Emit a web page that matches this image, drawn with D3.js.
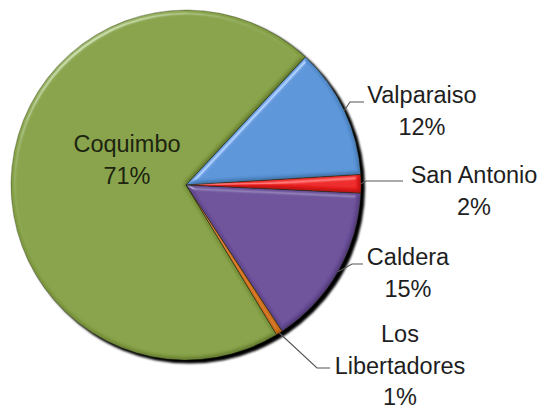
<!DOCTYPE html>
<html><head><meta charset="utf-8">
<script src="https://cdn.jsdelivr.net/npm/d3@7"></script>
<style>html,body{margin:0;padding:0;background:#fff;}svg{display:block;}</style>
</head><body>
<svg id="chart" width="542" height="411"></svg>
<script>
// ---- data ----
const categories = ["Valparaiso", "San Antonio", "Caldera", "Los Libertadores", "Coquimbo"];
const values = [12.1, 1.7, 15.0, 0.6, 70.6];
const colors = ["#5a96da", "#ee1d1d", "#6b4f9b", "#d9771f", "#87a345"];
// label layout (block centre x, first baseline y, line breaks)
const labelLines = [["Valparaiso"], ["San Antonio"], ["Caldera"], ["Los", "Libertadores"], ["Coquimbo"]];
const labelX = [422, 474, 408, 400, 127];
const labelY = [103, 183, 265, 342, 152];
// leader elbows/ends (null = no leader)
const leaderPts = [
  [[350, 102], [364, 102]],
  [[366, 181], [403, 181]],
  [[352, 264], [363, 264]],
  [[317, 368], [330, 368]],
  null
];

const W = 542, H = 411;
const cx = 186, cy = 185, R = 175;
const lineH = 31.5;

const svg = d3.select("#chart");
const defs = svg.append("defs");

const shadow = defs.append("filter").attr("id", "shadow")
  .attr("x", "-10%").attr("y", "-10%").attr("width", "120%").attr("height", "120%");
shadow.append("feGaussianBlur").attr("stdDeviation", 0.9);

const bevel = defs.append("filter").attr("id", "bevel")
  .attr("x", "-5%").attr("y", "-5%").attr("width", "110%").attr("height", "110%");
bevel.append("feGaussianBlur").attr("in", "SourceAlpha").attr("stdDeviation", 2.2).attr("result", "blur");
const spec = bevel.append("feSpecularLighting").attr("in", "blur").attr("surfaceScale", 4)
  .attr("specularConstant", 0.75).attr("specularExponent", 22)
  .attr("lighting-color", "#ffffff").attr("result", "spec");
spec.append("feDistantLight").attr("azimuth", 235).attr("elevation", 30);
bevel.append("feComposite").attr("in", "spec").attr("in2", "SourceAlpha").attr("operator", "in").attr("result", "specIn");
const diff = bevel.append("feDiffuseLighting").attr("in", "blur").attr("surfaceScale", 4)
  .attr("diffuseConstant", 1).attr("lighting-color", "#ffffff").attr("result", "diff");
diff.append("feDistantLight").attr("azimuth", 235).attr("elevation", 60);
bevel.append("feComposite").attr("in", "diff").attr("in2", "SourceAlpha").attr("operator", "in").attr("result", "diffIn");
bevel.append("feComposite").attr("in", "SourceGraphic").attr("in2", "diffIn")
  .attr("operator", "arithmetic").attr("k1", 0.55).attr("k2", 0.5).attr("k3", 0).attr("k4", 0).attr("result", "shaded");
bevel.append("feComposite").attr("in", "shaded").attr("in2", "specIn")
  .attr("operator", "arithmetic").attr("k1", 0).attr("k2", 1).attr("k3", 0.5).attr("k4", 0);

const pie = d3.pie().sort(null).value(d => d).startAngle(43 * Math.PI / 180).endAngle(43 * Math.PI / 180 + 2 * Math.PI);
const arcs = pie(values);
const arc = d3.arc().innerRadius(0).outerRadius(R);
const total = d3.sum(values);

const g = svg.append("g").attr("transform", `translate(${cx},${cy})`);

// shadow rim
g.append("circle").attr("cx", 3.5).attr("cy", 3).attr("r", R + 0.5)
  .attr("fill", "#000").attr("filter", "url(#shadow)");

g.selectAll("path.slice").data(arcs).enter().append("path")
  .attr("class", "slice")
  .attr("d", arc)
  .attr("fill", (d, i) => colors[i])
  .attr("filter", "url(#bevel)");

g.selectAll("path.sep").data(arcs).enter().append("path")
  .attr("class", "sep")
  .attr("d", arc)
  .attr("fill", "none")
  .attr("stroke", "rgba(40,50,20,0.45)")
  .attr("stroke-width", 0.8);

// leader lines
const lineGen = d3.line();
arcs.forEach((d, i) => {
  if (!leaderPts[i]) return;
  const a = (d.startAngle + d.endAngle) / 2;
  const start = [cx + R * Math.sin(a), cy - R * Math.cos(a)];
  svg.append("path").attr("d", lineGen([start, ...leaderPts[i]]))
    .attr("fill", "none").attr("stroke", "#555").attr("stroke-width", 1.1);
});

// labels
arcs.forEach((d, i) => {
  const pct = Math.round(d.data / total * 100) + "%";
  const lines = labelLines[i].concat([pct]);
  const t = svg.append("text")
    .attr("text-anchor", "middle")
    .attr("font-family", "'Liberation Sans', Arial, sans-serif")
    .attr("font-size", 23.5)
    .attr("fill", i === 4 ? "#1d2410" : "#1e1e1e");
  lines.forEach((s, k) => {
    t.append("tspan").attr("x", labelX[i]).attr("y", labelY[i] + k * lineH).text(s);
  });
});
</script>
</body></html>
